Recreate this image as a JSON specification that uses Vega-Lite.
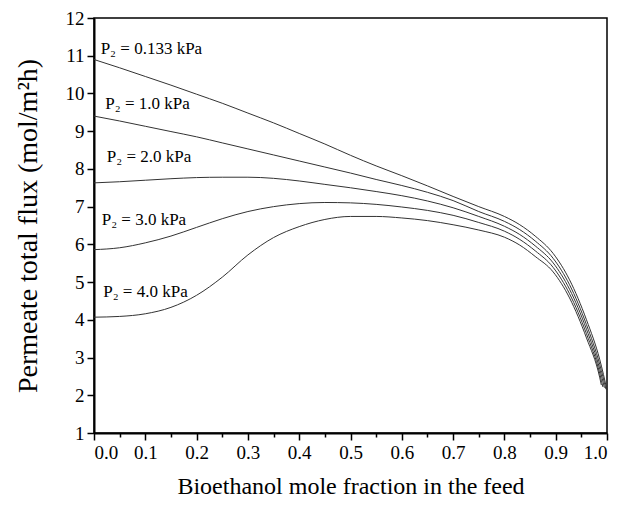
{
  "$schema": "https://vega.github.io/schema/vega-lite/v6.json",
  "width": 513,
  "height": 415,
  "autosize": {"type": "none"},
  "padding": {"left": 94, "top": 18, "right": 23, "bottom": 73},
  "background": "white",
  "config": {
    "view": {"stroke": "black", "strokeWidth": 1.5},
    "font": "Liberation Serif",
    "axis": {
      "grid": false,
      "domainColor": "black",
      "domainWidth": 2,
      "tickColor": "black",
      "tickWidth": 1.5,
      "labelFont": "Liberation Serif",
      "labelFontSize": 19,
      "labelColor": "black",
      "titleFont": "Liberation Serif",
      "titleFontWeight": "normal",
      "titleColor": "black",
      "labelPadding": 3,
      "labelOverlap": false
    }
  },
  "datasets": {
    "curves": [
      {"s": "A", "x": 0, "y": 10.9}, {"s": "A", "x": 0.05, "y": 10.68}, {"s": "A", "x": 0.1, "y": 10.45}, {"s": "A", "x": 0.15, "y": 10.22}, {"s": "A", "x": 0.2, "y": 9.98}, {"s": "A", "x": 0.25, "y": 9.74}, {"s": "A", "x": 0.3, "y": 9.48}, {"s": "A", "x": 0.35, "y": 9.22}, {"s": "A", "x": 0.4, "y": 8.94}, {"s": "A", "x": 0.45, "y": 8.66}, {"s": "A", "x": 0.5, "y": 8.36}, {"s": "A", "x": 0.55, "y": 8.08}, {"s": "A", "x": 0.6, "y": 7.82}, {"s": "A", "x": 0.65, "y": 7.55}, {"s": "A", "x": 0.7, "y": 7.27}, {"s": "A", "x": 0.75, "y": 7.0},
      {"s": "A", "x": 0.8, "y": 6.74}, {"s": "A", "x": 0.83, "y": 6.52}, {"s": "A", "x": 0.86, "y": 6.22}, {"s": "A", "x": 0.895, "y": 5.76}, {"s": "A", "x": 0.927, "y": 5.06}, {"s": "A", "x": 0.96, "y": 4.0}, {"s": "A", "x": 0.986, "y": 2.94}, {"s": "A", "x": 1.0, "y": 2.14},
      {"s": "B", "x": 0, "y": 9.4}, {"s": "B", "x": 0.05, "y": 9.27}, {"s": "B", "x": 0.1, "y": 9.13}, {"s": "B", "x": 0.15, "y": 8.99}, {"s": "B", "x": 0.2, "y": 8.85}, {"s": "B", "x": 0.25, "y": 8.69}, {"s": "B", "x": 0.3, "y": 8.53}, {"s": "B", "x": 0.35, "y": 8.37}, {"s": "B", "x": 0.4, "y": 8.21}, {"s": "B", "x": 0.45, "y": 8.05}, {"s": "B", "x": 0.5, "y": 7.89}, {"s": "B", "x": 0.55, "y": 7.72}, {"s": "B", "x": 0.6, "y": 7.56}, {"s": "B", "x": 0.65, "y": 7.38}, {"s": "B", "x": 0.7, "y": 7.16}, {"s": "B", "x": 0.75, "y": 6.87},
      {"s": "B", "x": 0.8, "y": 6.61}, {"s": "B", "x": 0.83, "y": 6.39}, {"s": "B", "x": 0.86, "y": 6.09}, {"s": "B", "x": 0.895, "y": 5.63}, {"s": "B", "x": 0.927, "y": 4.93}, {"s": "B", "x": 0.96, "y": 3.87}, {"s": "B", "x": 0.986, "y": 2.81}, {"s": "B", "x": 0.998, "y": 2.16},
      {"s": "C", "x": 0, "y": 7.63}, {"s": "C", "x": 0.05, "y": 7.66}, {"s": "C", "x": 0.1, "y": 7.7}, {"s": "C", "x": 0.15, "y": 7.74}, {"s": "C", "x": 0.2, "y": 7.77}, {"s": "C", "x": 0.25, "y": 7.78}, {"s": "C", "x": 0.3, "y": 7.78}, {"s": "C", "x": 0.35, "y": 7.75}, {"s": "C", "x": 0.4, "y": 7.68}, {"s": "C", "x": 0.45, "y": 7.59}, {"s": "C", "x": 0.5, "y": 7.5}, {"s": "C", "x": 0.55, "y": 7.4}, {"s": "C", "x": 0.6, "y": 7.29}, {"s": "C", "x": 0.65, "y": 7.15}, {"s": "C", "x": 0.7, "y": 6.97}, {"s": "C", "x": 0.75, "y": 6.74},
      {"s": "C", "x": 0.8, "y": 6.48}, {"s": "C", "x": 0.83, "y": 6.26}, {"s": "C", "x": 0.86, "y": 5.96}, {"s": "C", "x": 0.895, "y": 5.51}, {"s": "C", "x": 0.927, "y": 4.81}, {"s": "C", "x": 0.96, "y": 3.75}, {"s": "C", "x": 0.986, "y": 2.69}, {"s": "C", "x": 0.995, "y": 2.2},
      {"s": "D", "x": 0, "y": 5.86}, {"s": "D", "x": 0.05, "y": 5.91}, {"s": "D", "x": 0.1, "y": 6.04}, {"s": "D", "x": 0.15, "y": 6.22}, {"s": "D", "x": 0.2, "y": 6.45}, {"s": "D", "x": 0.25, "y": 6.68}, {"s": "D", "x": 0.3, "y": 6.87}, {"s": "D", "x": 0.35, "y": 7.0}, {"s": "D", "x": 0.4, "y": 7.08}, {"s": "D", "x": 0.45, "y": 7.11}, {"s": "D", "x": 0.5, "y": 7.1}, {"s": "D", "x": 0.55, "y": 7.06}, {"s": "D", "x": 0.6, "y": 6.99}, {"s": "D", "x": 0.65, "y": 6.9}, {"s": "D", "x": 0.7, "y": 6.77}, {"s": "D", "x": 0.75, "y": 6.58},
      {"s": "D", "x": 0.8, "y": 6.35}, {"s": "D", "x": 0.83, "y": 6.13}, {"s": "D", "x": 0.86, "y": 5.83}, {"s": "D", "x": 0.895, "y": 5.39}, {"s": "D", "x": 0.927, "y": 4.69}, {"s": "D", "x": 0.96, "y": 3.63}, {"s": "D", "x": 0.986, "y": 2.57}, {"s": "D", "x": 0.992, "y": 2.22},
      {"s": "E", "x": 0, "y": 4.07}, {"s": "E", "x": 0.05, "y": 4.09}, {"s": "E", "x": 0.1, "y": 4.16}, {"s": "E", "x": 0.15, "y": 4.33}, {"s": "E", "x": 0.2, "y": 4.65}, {"s": "E", "x": 0.25, "y": 5.13}, {"s": "E", "x": 0.3, "y": 5.72}, {"s": "E", "x": 0.35, "y": 6.18}, {"s": "E", "x": 0.4, "y": 6.47}, {"s": "E", "x": 0.45, "y": 6.66}, {"s": "E", "x": 0.5, "y": 6.74}, {"s": "E", "x": 0.55, "y": 6.74}, {"s": "E", "x": 0.6, "y": 6.7}, {"s": "E", "x": 0.65, "y": 6.63}, {"s": "E", "x": 0.7, "y": 6.52}, {"s": "E", "x": 0.75, "y": 6.38},
      {"s": "E", "x": 0.8, "y": 6.19}, {"s": "E", "x": 0.83, "y": 5.98}, {"s": "E", "x": 0.86, "y": 5.68}, {"s": "E", "x": 0.895, "y": 5.27}, {"s": "E", "x": 0.927, "y": 4.58}, {"s": "E", "x": 0.96, "y": 3.52}, {"s": "E", "x": 0.986, "y": 2.46}, {"s": "E", "x": 0.989, "y": 2.27}
    ],
    "labels": [
      {"x": 0.013, "y": 11.19, "t": "P₂ = 0.133 kPa"},
      {"x": 0.022, "y": 9.71, "t": "P₂ = 1.0 kPa"},
      {"x": 0.025, "y": 8.32, "t": "P₂ = 2.0 kPa"},
      {"x": 0.015, "y": 6.64, "t": "P₂ = 3.0 kPa"},
      {"x": 0.018, "y": 4.75, "t": "P₂ = 4.0 kPa"}
    ]
  },
  "encoding": {
    "x": {
      "field": "x", "type": "quantitative",
      "scale": {"domain": [0, 1], "nice": false, "zero": false},
      "axis": {
        "title": "Bioethanol mole fraction in the feed",
        "titleFontSize": 24,
        "values": [0, 0.05, 0.1, 0.15, 0.2, 0.25, 0.3, 0.35, 0.4, 0.45, 0.5, 0.55, 0.6, 0.65, 0.7, 0.75, 0.8, 0.85, 0.9, 0.95, 1.0],
        "format": ".1f",
        "labelOverlap": false,
        "labelExpr": "round(datum.value*100) % 10 === 0 ? datum.label : ''",
        "tickSize": {"condition": {"test": "round(datum.value*100) % 10 === 0", "value": 7}, "value": 4},
        "titlePadding": 12
      }
    },
    "y": {
      "field": "y", "type": "quantitative",
      "scale": {"domain": [1, 12], "nice": false, "zero": false},
      "axis": {
        "title": "Permeate total flux (mol/m²h)",
        "titleFontSize": 28,
        "values": [1, 1.5, 2, 2.5, 3, 3.5, 4, 4.5, 5, 5.5, 6, 6.5, 7, 7.5, 8, 8.5, 9, 9.5, 10, 10.5, 11, 11.5, 12],
        "format": "d",
        "labelOverlap": false,
        "labelExpr": "datum.value % 1 === 0 ? datum.label : ''",
        "tickSize": {"condition": {"test": "datum.value % 1 === 0", "value": 7}, "value": 4},
        "titlePadding": 23
      }
    }
  },
  "layer": [
    {
      "data": {"name": "curves"},
      "mark": {"type": "line", "interpolate": "monotone", "color": "#333333", "strokeWidth": 1},
      "encoding": {
        "detail": {"field": "s", "type": "nominal"}
      }
    },
    {
      "data": {"name": "labels"},
      "mark": {"type": "text", "align": "left", "baseline": "middle", "font": "Liberation Serif", "fontSize": 17, "color": "black"},
      "encoding": {
        "text": {"field": "t"}
      }
    }
  ]
}
